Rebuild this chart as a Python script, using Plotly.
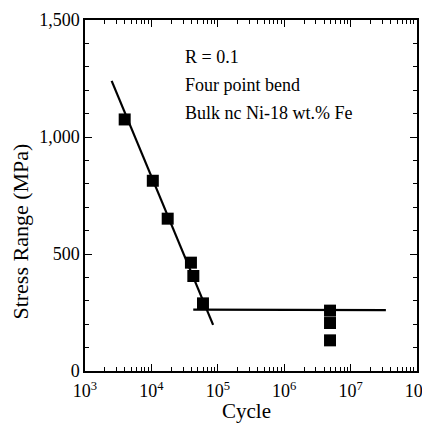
import numpy as np
import plotly.graph_objects as go

# Data points
cycles = [3960, 10500, 17600, 39400, 42800, 59800, 4.9e6, 4.9e6, 4.9e6]
stress = [1075, 813, 651, 463, 406, 289, 258, 205, 131]

# Fitted lines
slope_x = [2520, 85000]
slope_y = [1240, 197]
flat_x = [42700, 3.4e7]
flat_y = [262, 260]

x_tickvals = [1e3, 1e4, 1e5, 1e6, 1e7, 1e8]
x_ticktext = ["10<sup>3</sup>", "10<sup>4</sup>", "10<sup>5</sup>", "10<sup>6</sup>", "10<sup>7</sup>", "10<sup>8</sup>"]
y_tickvals = [0, 500, 1000, 1500]
y_ticktext = ["0", "500", "1,000", "1,500"]

annot_lines = ["R = 0.1", "Four point bend", "Bulk nc Ni-18 wt.% Fe"]
x_title = "Cycle"
y_title = "Stress Range (MPa)"

font = "Liberation Serif, Times New Roman, serif"

fig = go.Figure()
fig.add_trace(go.Scatter(x=slope_x, y=slope_y, mode="lines",
                         line=dict(color="black", width=2.2), showlegend=False))
fig.add_trace(go.Scatter(x=flat_x, y=flat_y, mode="lines",
                         line=dict(color="black", width=2.2), showlegend=False))
fig.add_trace(go.Scatter(x=cycles, y=stress, mode="markers",
                         marker=dict(symbol="square", size=12, color="black"),
                         showlegend=False))

minor_x = [m * 10 ** d for d in range(3, 8) for m in range(2, 10)]

fig.update_xaxes(type="log", range=[3, 8], tickmode="array", tickvals=x_tickvals,
                 ticktext=x_ticktext, ticks="inside", ticklen=7, tickwidth=1.2,
                 tickcolor="black", showline=True, linecolor="black", linewidth=1.5,
                 mirror="ticks", showgrid=False, zeroline=False, automargin=False,
                 ticklabeloverflow="allow", ticklabelstandoff=3,
                 tickfont=dict(family=font, size=18, color="black"),
                 minor=dict(tickmode="array", tickvals=minor_x, ticks="inside",
                            ticklen=4, tickcolor="black", tickwidth=1))
fig.update_yaxes(range=[0, 1500], tickmode="array", tickvals=y_tickvals,
                 ticktext=y_ticktext, ticks="inside", ticklen=7, tickwidth=1.2,
                 tickcolor="black", showline=True, linecolor="black", linewidth=1.5,
                 mirror="ticks", showgrid=False, zeroline=False, automargin=False,
                 tickfont=dict(family=font, size=18, color="black"),
                 minor=dict(dtick=100, ticks="inside", ticklen=4, tickcolor="black", tickwidth=1))

for i, t in enumerate(annot_lines):
    fig.add_annotation(x=0.295, y=0.895 - i * 0.08, xref="paper", yref="paper",
                       text=t, showarrow=False, xanchor="left", yanchor="middle",
                       font=dict(family=font, size=18, color="black"))

fig.add_annotation(x=0.485, y=-0.113, xref="paper", yref="paper", text=x_title,
                   showarrow=False, xanchor="center", yanchor="middle",
                   font=dict(family=font, size=21, color="black"))
fig.add_annotation(x=-0.193, y=0.397, xref="paper", yref="paper", text=y_title,
                   showarrow=False, xanchor="center", yanchor="middle", textangle=-90,
                   font=dict(family=font, size=22, color="black"))

fig.update_layout(width=422, height=416, margin=dict(l=77, r=13, t=12, b=53),
                  plot_bgcolor="white", paper_bgcolor="white")

fig.write_html("out.html")
